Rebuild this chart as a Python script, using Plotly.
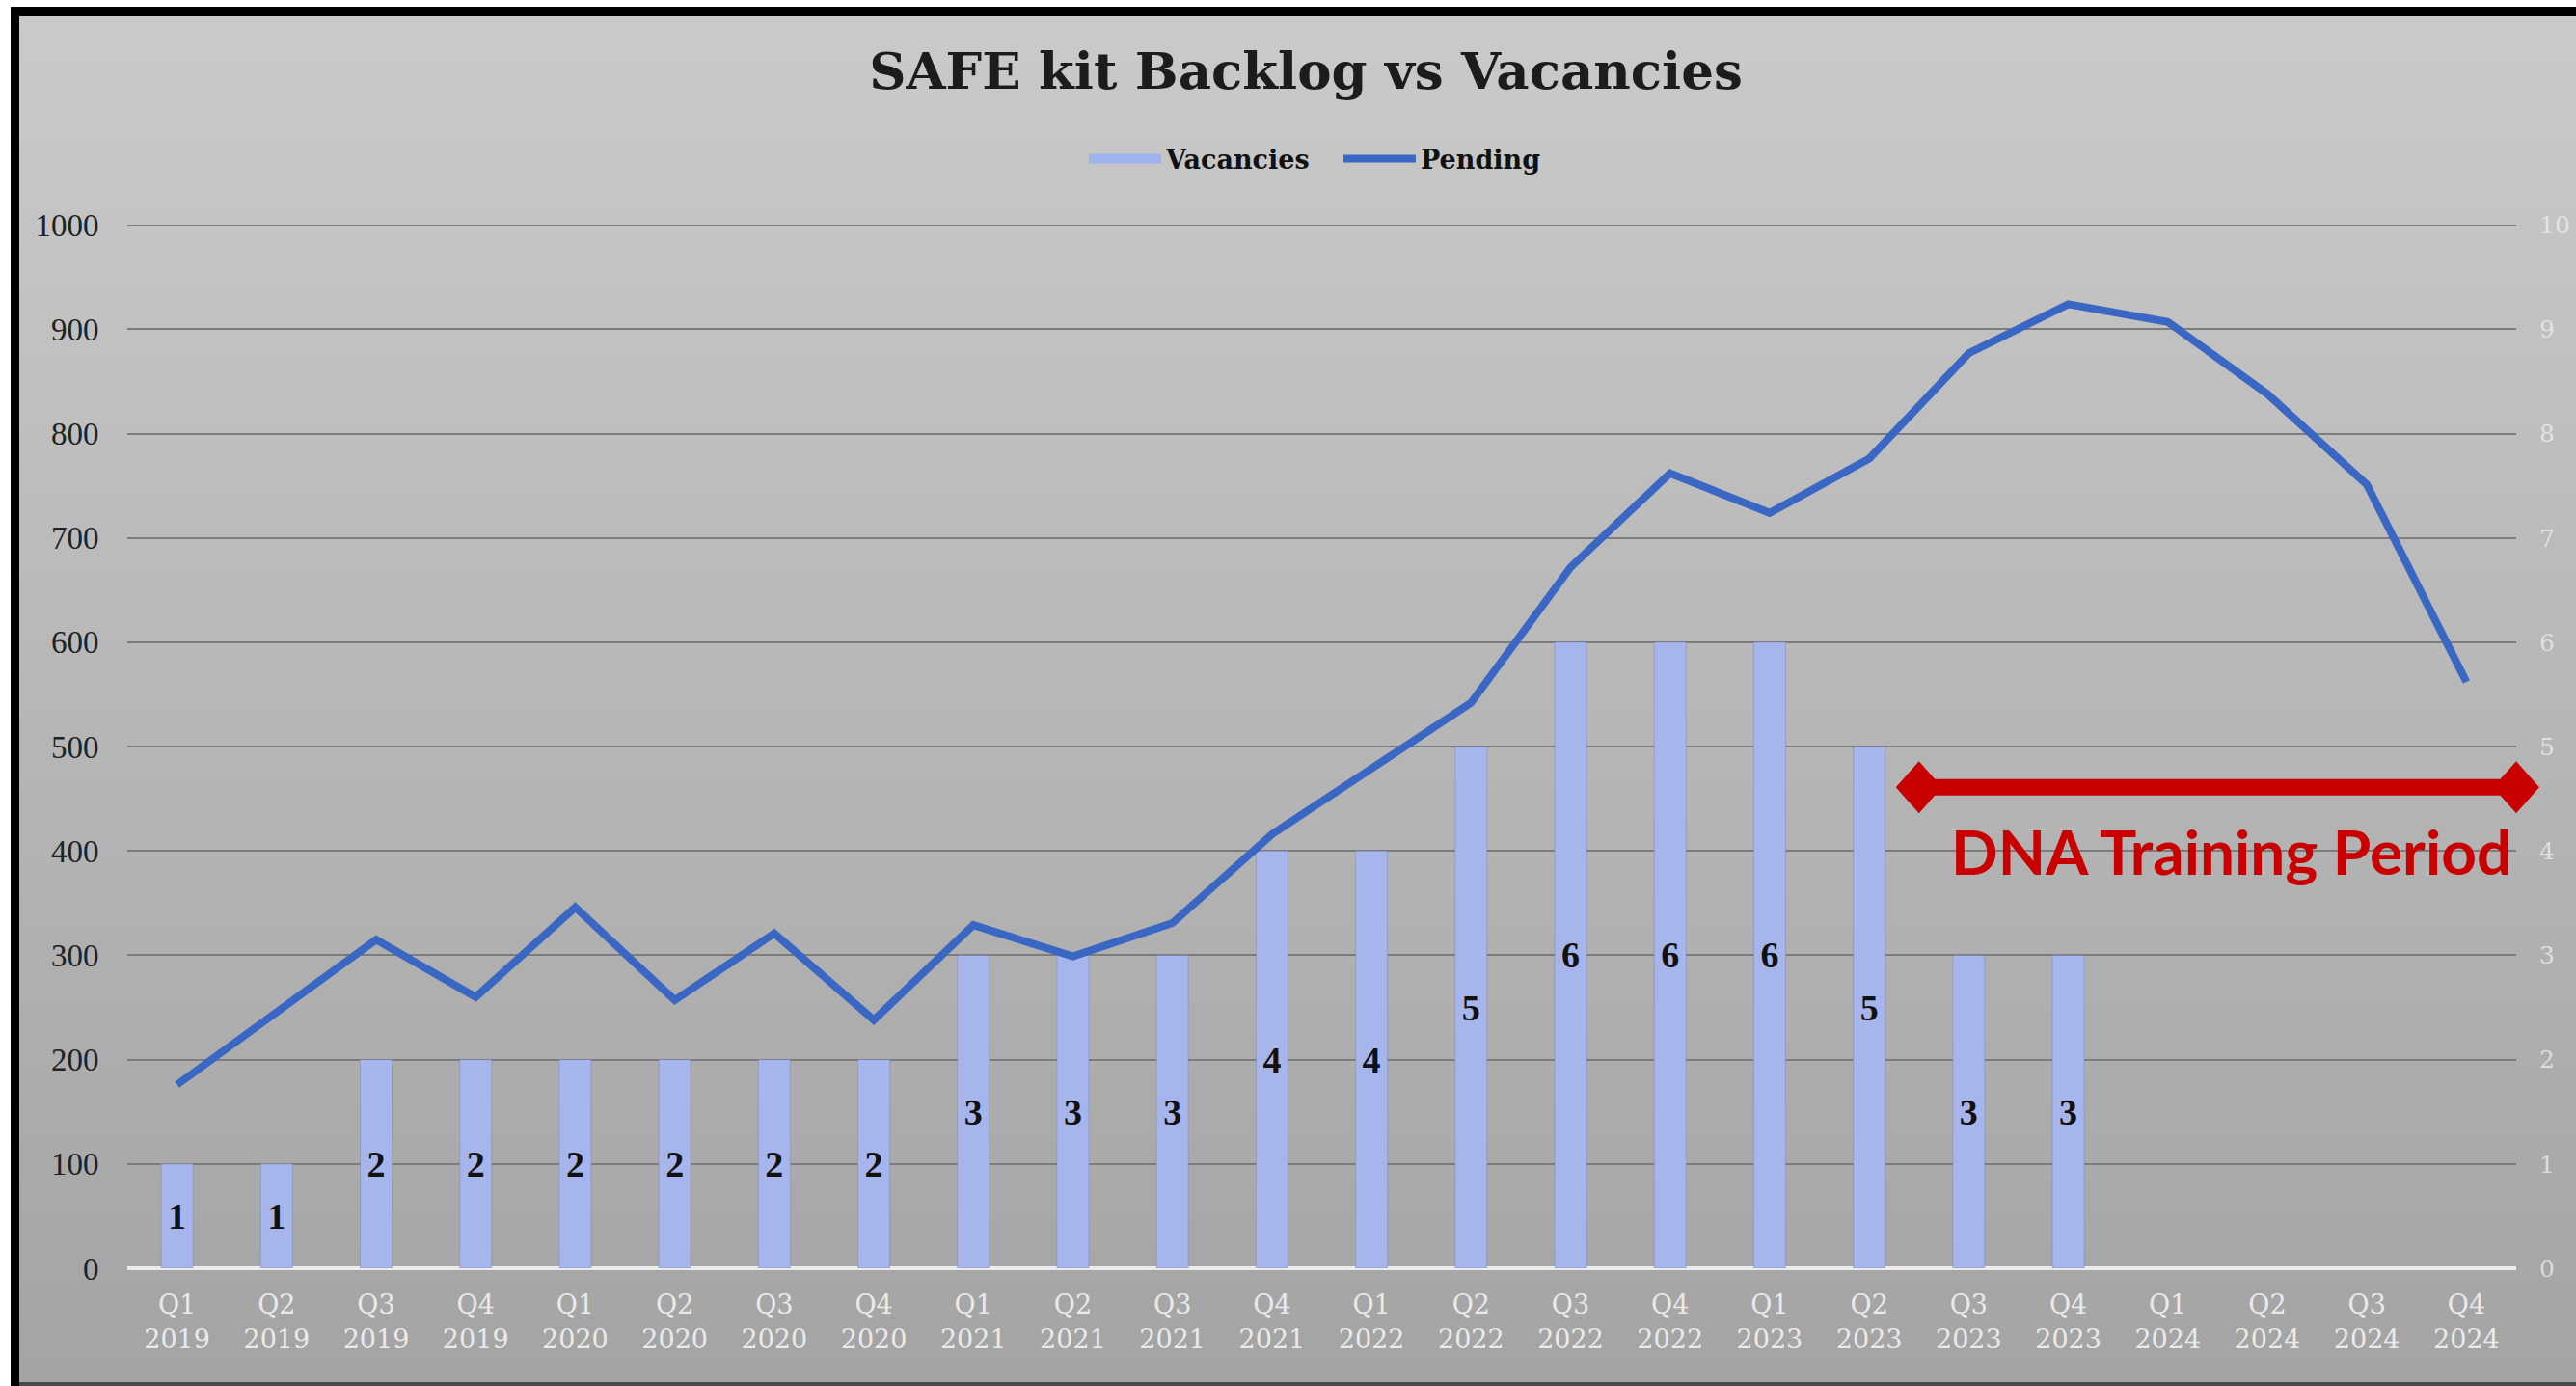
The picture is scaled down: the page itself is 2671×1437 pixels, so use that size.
import base64
import struct
import zlib

import plotly.graph_objects as go

# ---------------- data ----------------
quarters = [
    "Q1 2019", "Q2 2019", "Q3 2019", "Q4 2019",
    "Q1 2020", "Q2 2020", "Q3 2020", "Q4 2020",
    "Q1 2021", "Q2 2021", "Q3 2021", "Q4 2021",
    "Q1 2022", "Q2 2022", "Q3 2022", "Q4 2022",
    "Q1 2023", "Q2 2023", "Q3 2023", "Q4 2023",
    "Q1 2024", "Q2 2024", "Q3 2024", "Q4 2024",
]
vacancies = [1, 1, 2, 2, 2, 2, 2, 2, 3, 3, 3, 4, 4, 5, 6, 6, 6, 5, 3, 3,
             None, None, None, None]
pending = [176, 245, 315, 260, 346, 257, 321, 238, 329, 299, 331, 416,
           480, 542, 672, 762, 724, 776, 877, 924, 907, 838, 751, 562]
tick_labels = [q.replace(" ", "<br>") for q in quarters]
left_ticks = list(range(0, 1001, 100))
right_ticks = list(range(0, 11, 1))

# annotation (DNA training period) placement, in category-index / value units
train_start, train_end, train_level = 17.5, 23.5, 461
train_label = "DNA Training Period"
train_label_x, train_label_y = 20.64, 400

# ---------------- styling ----------------
W, H = 2671, 1437
ML, MR, MT, MB = 132, 62, 233, 122
RED = "#c80000"
BAR = "#a6b5ec"
LINE = "#3a66c4"
SERIF = "DejaVu Serif"
SERIF2 = "Liberation Serif"
N = len(quarters)
Y2MAX = 1000.2


def png_gradient(w, h, top, bottom):
    raw = b""
    for j in range(h):
        t = j / (h - 1)
        c = bytes(round(top[k] + (bottom[k] - top[k]) * t) for k in range(3))
        raw += b"\x00" + c * w

    def chunk(tag, data):
        return (struct.pack(">I", len(data)) + tag + data
                + struct.pack(">I", zlib.crc32(tag + data) & 0xFFFFFFFF))

    png = (b"\x89PNG\r\n\x1a\n"
           + chunk(b"IHDR", struct.pack(">IIBBBBB", w, h, 8, 2, 0, 0, 0))
           + chunk(b"IDAT", zlib.compress(raw))
           + chunk(b"IEND", b""))
    return "data:image/png;base64," + base64.b64encode(png).decode()


pw = W - ML - MR
ph = H - MT - MB


def px_x(p):
    return (p - ML) / pw


def px_y(p):
    return (H - MB - p) / ph


def idx_to_paper(i):
    return (i + 0.5) / N


fig = go.Figure()

fig.add_trace(go.Bar(
    x=quarters, y=vacancies, name="Vacancies", yaxis="y", showlegend=False,
    marker=dict(color=BAR, line=dict(color="rgba(110,120,170,0.35)", width=1)),
    text=[str(v) if v is not None else "" for v in vacancies],
    textposition="inside", insidetextanchor="middle", textangle=0,
    constraintext="none",
    textfont=dict(family=SERIF2, size=38, color="#111111", weight="bold"),
    hoverinfo="skip",
))
# legend proxy for the bars (wide swatch like the reference)
fig.add_trace(go.Scatter(
    x=[None], y=[None], name="Vacancies", yaxis="y", mode="lines",
    line=dict(color="#9db2ef", width=13), hoverinfo="skip",
))

fig.add_trace(go.Scatter(
    x=quarters, y=pending, name="Pending", yaxis="y2", mode="lines",
    line=dict(color=LINE, width=8),
    hoverinfo="skip",
))

ty = train_level / Y2MAX
shapes = [
    # top gridline (value 1000 / 10)
    dict(type="line", xref="paper", yref="y", x0=0, x1=1, y0=10, y1=10,
         line=dict(color="#7c7c7c", width=1.6), layer="below"),
    # training period arrow
    dict(type="line", xref="paper", yref="paper",
         x0=idx_to_paper(train_start), x1=idx_to_paper(train_end),
         y0=ty, y1=ty, line=dict(color=RED, width=17), layer="above"),
]
for xa in (train_start, train_end):
    shapes.append(dict(type="path", xref="paper", yref="paper",
                       xsizemode="pixel", ysizemode="pixel",
                       xanchor=idx_to_paper(xa), yanchor=ty,
                       path="M -24 0 L 0 27 L 24 0 L 0 -27 Z",
                       fillcolor=RED, line=dict(width=0), layer="above"))
# picture frame
shapes += [
    dict(type="rect", xref="paper", yref="paper", x0=px_x(11), x1=px_x(W + 5),
         y0=px_y(17), y1=px_y(7), fillcolor="#000000", line=dict(width=0), layer="above"),
    dict(type="rect", xref="paper", yref="paper", x0=px_x(11), x1=px_x(20),
         y0=px_y(H + 5), y1=px_y(7), fillcolor="#000000", line=dict(width=0), layer="above"),
    dict(type="rect", xref="paper", yref="paper", x0=px_x(20), x1=px_x(W + 5),
         y0=px_y(H + 5), y1=px_y(1433), fillcolor="#4a4a4a", line=dict(width=0), layer="above"),
]

fig.update_layout(
    width=W, height=H,
    margin=dict(l=ML, r=MR, t=MT, b=MB, autoexpand=False),
    paper_bgcolor="#ffffff",
    plot_bgcolor="rgba(0,0,0,0)",
    bargap=0.68,
    showlegend=True,
    title=dict(text="SAFE kit Backlog vs Vacancies", xref="paper", x=px_x(1354),
               yref="container", y=1 - 73 / H, xanchor="center", yanchor="middle",
               font=dict(family=SERIF, size=53, color="#1c1c1c", weight="bold")),
    legend=dict(orientation="h", xref="paper", yref="paper", x=px_x(1388), y=px_y(165),
                xanchor="center", yanchor="middle", bgcolor="rgba(0,0,0,0)",
                font=dict(family=SERIF, size=27, color="#111111", weight="bold"),
                itemwidth=75, entrywidth=174, entrywidthmode="pixels",
                traceorder="normal"),
    xaxis=dict(type="category", categoryorder="array", categoryarray=quarters,
               range=[-0.5, N - 0.5], autorange=False,
               tickvals=quarters, ticktext=tick_labels, automargin=False,
               tickfont=dict(family=SERIF, size=27, color="#eaeaea"),
               ticks="outside", ticklen=14, tickcolor="rgba(0,0,0,0)",
               showgrid=False, showline=False, zeroline=False),
    yaxis=dict(range=[0, 10.002], tickvals=right_ticks, side="right", automargin=False,
               tickfont=dict(family=SERIF, size=25, color="rgba(238,238,238,0.75)"),
               ticks="outside", ticklen=18, tickcolor="rgba(0,0,0,0)",
               showgrid=True, gridcolor="#7c7c7c", gridwidth=1.6,
               zeroline=True, zerolinecolor="#ececec", zerolinewidth=4,
               showline=False),
    yaxis2=dict(range=[0, Y2MAX], tickvals=left_ticks, overlaying="y", side="left",
                automargin=False,
                tickfont=dict(family=SERIF2, size=33, color="#222222"),
                ticks="outside", ticklen=22, tickcolor="rgba(0,0,0,0)",
                showgrid=False, zeroline=False, showline=False),
    shapes=shapes,
    annotations=[dict(text=train_label, xref="x", yref="y2", x=train_label_x, y=train_label_y,
                      xanchor="center", yanchor="middle", showarrow=False,
                      font=dict(family="Lato", size=64, color=RED, weight="bold"))],
    images=[dict(source=png_gradient(4, 200, (202, 202, 202), (164, 164, 164)),
                 xref="paper", yref="paper", x=px_x(20), y=px_y(17),
                 sizex=(W - 20) / pw, sizey=(1433 - 17) / ph,
                 xanchor="left", yanchor="top", sizing="stretch", layer="below")],
)

fig.write_html("out.html", config={"displayModeBar": False},
               post_script="document.body.style.margin='0';")
